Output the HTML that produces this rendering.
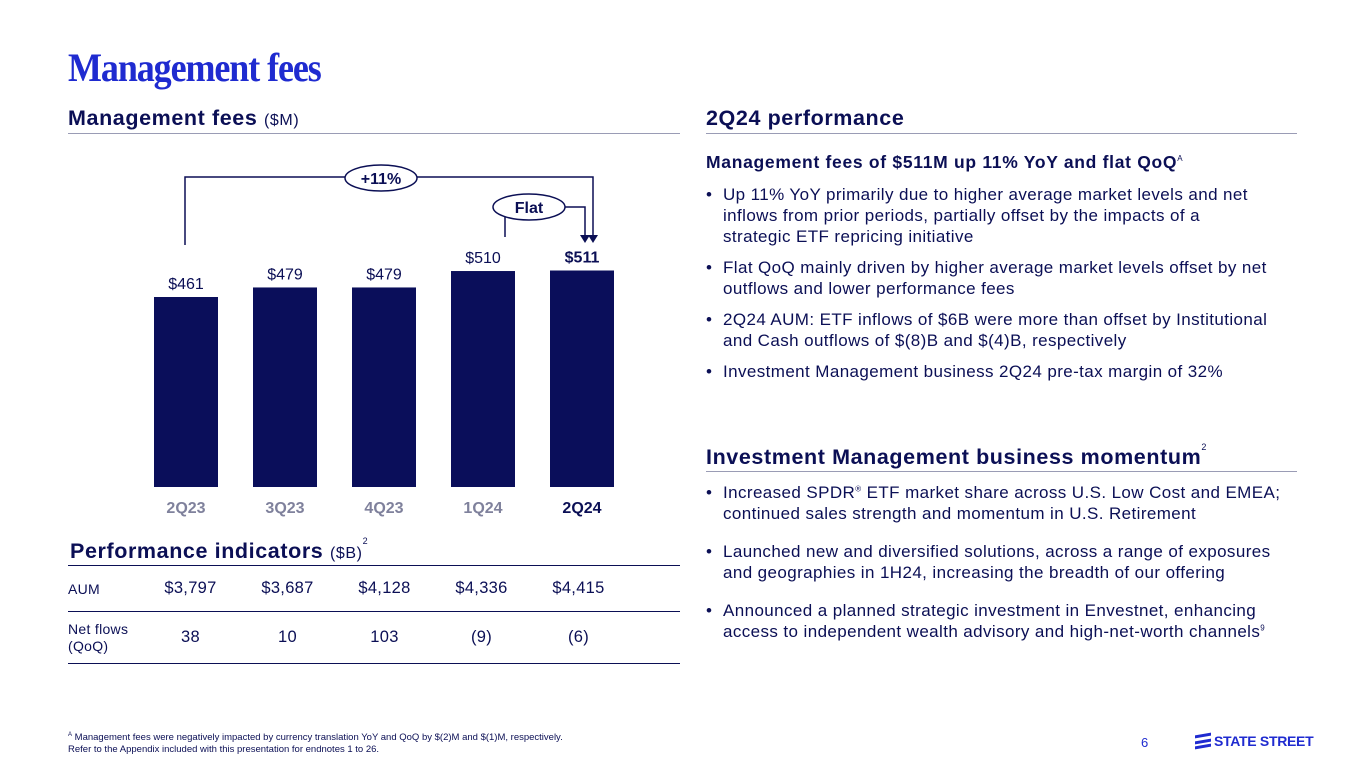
<!DOCTYPE html>
<html><head><meta charset="utf-8"><style>
*{margin:0;padding:0;box-sizing:border-box}
body{width:1365px;height:768px;background:#fff;font-family:"Liberation Sans",sans-serif;color:#0b0f55;position:relative;overflow:hidden}
.abs{position:absolute}
h1{position:absolute;left:68px;top:44px;font-family:"Liberation Serif",serif;font-weight:bold;font-size:40px;color:#1f2bd0;letter-spacing:-1.2px;transform:scaleX(0.9);transform-origin:left;white-space:nowrap}
.sec{position:absolute;font-weight:bold;font-size:21.5px;letter-spacing:0.6px;color:#0b0f55;white-space:nowrap}
.sec span{font-weight:normal;font-size:16px}
.rule{position:absolute;height:1px;background:#9a9cb5}
.sub{position:absolute;left:706px;font-weight:bold;font-size:17.5px;letter-spacing:0.7px;color:#0b0f55;white-space:nowrap}
ul{position:absolute;left:706px;list-style:none;font-size:17px;letter-spacing:0.4px;line-height:21px;color:#0b0f55;white-space:nowrap}
li{padding-left:17px;position:relative;margin-bottom:10px}
li:before{content:"•";position:absolute;left:0;top:0}
sup{line-height:0}
table{position:absolute;left:68px;top:565px;width:612px;border-collapse:collapse;font-size:16.5px;letter-spacing:0.3px;color:#0b0f55;table-layout:fixed}
td{text-align:center}
.foot{position:absolute;left:68px;top:732px;font-size:9.5px;color:#0b0f55;line-height:12px}
</style></head><body>
<h1>Management fees</h1>
<div class="sec" style="left:68px;top:106px">Management fees <span>($M)</span></div>
<div class="rule" style="left:68px;top:133px;width:612px"></div>
<div class="sec" style="left:706px;top:106px">2Q24 performance</div>
<div class="rule" style="left:706px;top:133px;width:591px"></div>

<svg class="abs" style="left:0;top:0" width="700" height="530" id="chart">
<g stroke="#0b0f55" stroke-width="1.5" fill="none">
<path d="M185 245 V177 H593 V237"/>
<path d="M505 237 V207 H585 V237"/>
</g>
<path d="M588 235 L598 235 L593 243Z M580 235 L590 235 L585 243Z" fill="#0b0f55"/>
<ellipse cx="381" cy="178" rx="36" ry="13" fill="#fff" stroke="#0b0f55" stroke-width="1.5"/>
<text x="381" y="184" text-anchor="middle" font-weight="bold" font-size="16" fill="#0b0f55">+11%</text>
<ellipse cx="529" cy="207" rx="36" ry="13" fill="#fff" stroke="#0b0f55" stroke-width="1.5"/>
<text x="529" y="213" text-anchor="middle" font-weight="bold" font-size="16" fill="#0b0f55">Flat</text>
</svg>

<div class="sec" style="left:70px;top:539px">Performance indicators <span>($B)</span><sup style="font-size:9px;font-weight:normal;position:relative;top:-6px">2</sup></div>
<table>
<colgroup><col style="width:74px"><col style="width:97px"><col style="width:97px"><col style="width:97px"><col style="width:97px"><col style="width:97px"><col style="width:53px"></colgroup>
<tr style="height:46px;border-top:1.5px solid #0b0f55;border-bottom:1.5px solid #0b0f55"><td style="text-align:left;font-size:14px">AUM</td><td>$3,797</td><td>$3,687</td><td>$4,128</td><td>$4,336</td><td>$4,415</td><td></td></tr>
<tr style="height:52px;border-bottom:1.5px solid #0b0f55"><td style="text-align:left;font-size:14px;line-height:17px">Net flows<br>(QoQ)</td><td>38</td><td>10</td><td>103</td><td>(9)</td><td>(6)</td><td></td></tr>
</table>

<div class="sub" style="top:152px">Management fees of $511M up 11% YoY and flat QoQ<sup style="font-size:8px;font-weight:normal">A</sup></div>
<ul style="top:184px;width:600px">
<li>Up 11% YoY primarily due to higher average market levels and net<br>inflows from prior periods, partially offset by the impacts of a<br>strategic ETF repricing initiative</li>
<li>Flat QoQ mainly driven by higher average market levels offset by net<br>outflows and lower performance fees</li>
<li>2Q24 AUM: ETF inflows of $6B were more than offset by Institutional<br>and Cash outflows of $(8)B and $(4)B, respectively</li>
<li>Investment Management business 2Q24 pre-tax margin of 32%</li>
</ul>
<div class="sec" style="left:706px;top:445px">Investment Management business momentum<sup style="font-size:9px;font-weight:normal;position:relative;top:-6px">2</sup></div>
<div class="rule" style="left:706px;top:471px;width:591px"></div>
<ul style="top:482px;width:600px">
<li style="margin-bottom:17px">Increased SPDR<sup style="font-size:8px">®</sup> ETF market share across U.S. Low Cost and EMEA;<br>continued sales strength and momentum in U.S. Retirement</li>
<li style="margin-bottom:17px">Launched new and diversified solutions, across a range of exposures<br>and geographies in 1H24, increasing the breadth of our offering</li>
<li>Announced a planned strategic investment in Envestnet, enhancing<br>access to independent wealth advisory and high-net-worth channels<sup style="font-size:8px">9</sup></li>
</ul>
<div class="foot"><sup style="font-size:6px">A</sup> Management fees were negatively impacted by currency translation YoY and QoQ by $(2)M and $(1)M, respectively.<br>Refer to the Appendix included with this presentation for endnotes 1 to 26.</div>
<div class="abs" style="left:1141px;top:735px;font-size:13px;color:#1f2bd0">6</div>
<div class="abs" style="left:1195px;top:733px;font-size:14px;font-weight:bold;color:#1f2bd0;letter-spacing:-0.3px"><span style="display:inline-block;width:16px;height:14px;vertical-align:-2px;margin-right:3px;border-top:3px solid #1f2bd0;border-bottom:3px solid #1f2bd0;transform:skewY(-10deg);position:relative"><span style="position:absolute;left:0;top:2.5px;width:16px;height:3px;background:#1f2bd0"></span></span>STATE STREET</div>

<script>
const categories=["2Q23","3Q23","4Q23","1Q24","2Q24"];
const values=[461,479,479,510,511];
const labels=["$461","$479","$479","$510","$511"];
const svg=document.getElementById('chart');
const NS='http://www.w3.org/2000/svg';
const base=487;
function y(v){return 297-(v-461)*0.53;}
function x(i){return 154+i*99;}
categories.forEach((c,i)=>{
  const r=document.createElementNS(NS,'rect');
  r.setAttribute('x',x(i));r.setAttribute('y',y(values[i]));
  r.setAttribute('width',64);r.setAttribute('height',base-y(values[i]));
  r.setAttribute('fill','#0a0e5a');
  
  
  svg.appendChild(r);
  const t=document.createElementNS(NS,'text');
  t.setAttribute('x',x(i)+32);t.setAttribute('y',y(values[i])-8);
  t.setAttribute('text-anchor','middle');t.setAttribute('font-size','16');
  t.setAttribute('fill','#0b0f55');
  if(i===categories.length-1)t.setAttribute('font-weight','bold');
  t.textContent=labels[i];
  
  
  svg.appendChild(t);
  const a=document.createElementNS(NS,'text');
  a.setAttribute('x',x(i)+32);a.setAttribute('y',513);
  a.setAttribute('text-anchor','middle');a.setAttribute('font-size','16');a.setAttribute('font-weight','bold');
  a.setAttribute('fill',i===categories.length-1?'#0b0f55':'#7f819c');
  a.textContent=c;
  
  
  svg.appendChild(a);
});
</script>
</body></html>
